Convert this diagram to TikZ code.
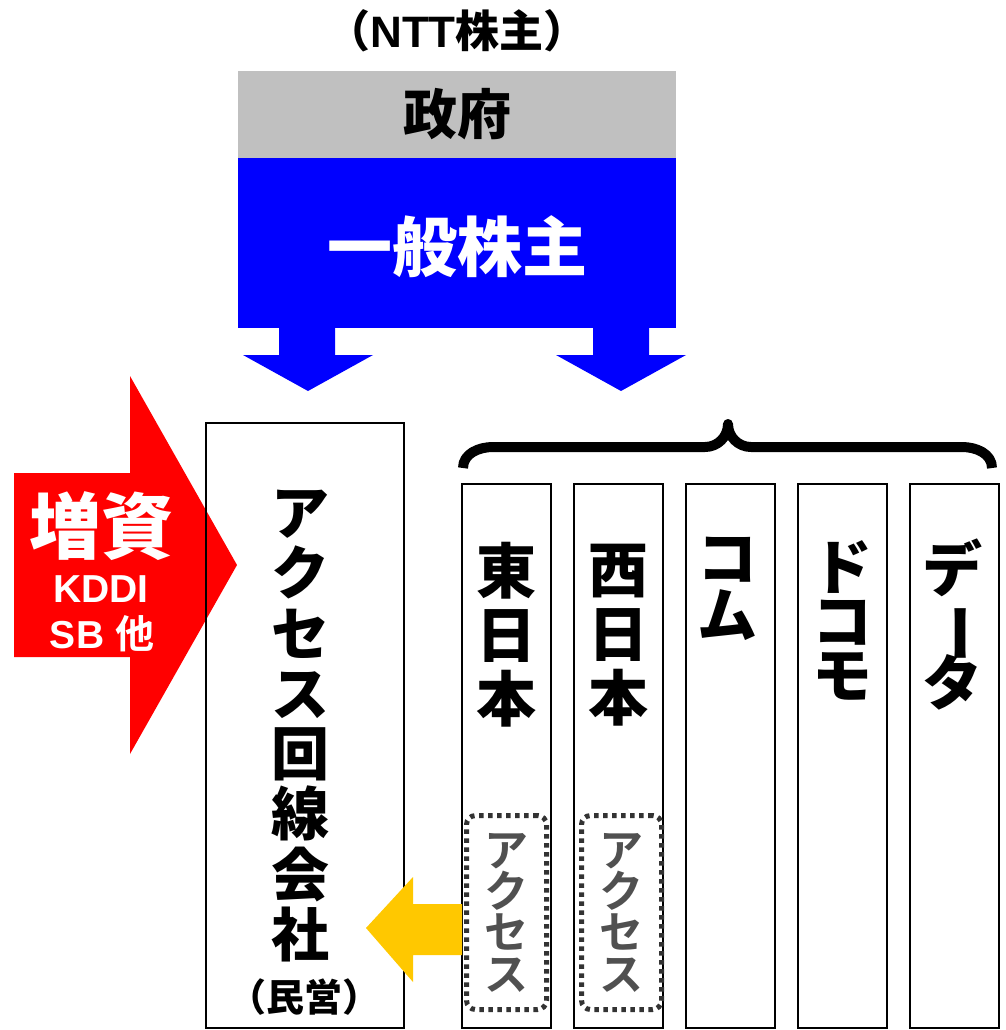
\documentclass[tikz,border=0pt]{standalone}
\usepackage{fontspec}
\IfFontExistsTF{Noto Sans CJK JP Black}{\newfontfamily\jpheavy{Noto Sans CJK JP Black}}{\newfontfamily\jpheavy{Noto Sans CJK JP}[FakeBold=3]}
\IfFontExistsTF{Noto Sans CJK JP Bold}{\newfontfamily\jpbold{Noto Sans CJK JP Bold}}{\newfontfamily\jpbold{Noto Sans CJK JP}[FakeBold=1.5]}
\newfontfamily\latfont{Liberation Sans}
\usetikzlibrary{positioning}
\definecolor{govgray}{RGB}{192,192,192}
\definecolor{shareblue}{RGB}{0,0,255}
\definecolor{capred}{RGB}{255,0,0}
\definecolor{accyellow}{RGB}{255,200,0}
\definecolor{dotgray}{RGB}{51,51,51}
\definecolor{textgray}{RGB}{80,80,80}
\newcommand\stackfont[2]{\fontsize{#1}{#2}\selectfont\lineskiplimit=-100pt}
\tikzset{
  colbox/.style={draw, line width=1.5pt, inner sep=0pt, minimum width=89pt, minimum height=544pt},
  vtext/.style={inner sep=0pt, align=center},
  accbox/.style={draw=dotgray, line width=5pt, dash pattern=on 4.5pt off 4.5pt, rounded corners=9pt,
    inner sep=0pt, minimum width=80pt, minimum height=194pt},
}

\begin{document}
\begin{tikzpicture}[x=1pt,y=-1pt]
    \useasboundingbox (0,0) rectangle (1005,1030);

    % Title
    \node[font=\jpheavy\fontsize{44}{44}\selectfont] (title) at (457,31) {（{\latfont\bfseries NTT}株主）};

    % Shareholders
    \node[fill=govgray, inner sep=0pt, minimum width=438pt, minimum height=87pt,
      font=\jpheavy\fontsize{54}{54}\selectfont] (gov) at (457,114.5) {政府};
    \node[fill=shareblue, inner sep=0pt, minimum width=438pt, minimum height=170.5pt] (share) at (457,242.75) {};
    \node[text=white, font=\jpheavy\fontsize{65}{65}\selectfont] (sharetext) at (457,247) {一般株主};

    % Down arrows
    \fill[shareblue] (279,327) -- (335,327) -- (335,355) -- (373,355) -- (308,391) -- (243,355) -- (279,355) -- cycle;
    \fill[shareblue] (593,327) -- (649,327) -- (649,355) -- (686,355) -- (621,391) -- (556,355) -- (593,355) -- cycle;

    % Capital increase
    \fill[capred] (14,473) -- (130,473) -- (130,376) -- (237,565) -- (130,754) -- (130,657) -- (14,657) -- cycle;
    \node[text=white, font=\jpheavy\fontsize{72}{72}\selectfont] (zoushi) at (101,526) {増資};
    \node[text=white, font=\latfont\bfseries\fontsize{39}{39}\selectfont] (kddi) at (101,589) {KDDI};
    \node[text=white, font=\latfont\bfseries\fontsize{39}{39}\selectfont] (sb) at (102,634) {SB {\jpheavy 他}};

    % Access line company
    \node[colbox, minimum width=198pt, minimum height=605pt] (acc) at (305,725.5) {};
    \node[vtext, font=\jpheavy\stackfont{58}{60.3}] (acctext) at (300,726) {ア\\ク\\セ\\ス\\回\\線\\会\\社};
    \node[font=\jpheavy\fontsize{38}{38}\selectfont] (minei) at (304,997) {（民営）};

    % Brace
    \draw[line width=10pt, line join=round] (463,468) to[out=90,in=180] (493,447) -- (705,447)
      to[out=0,in=-90] (728,424) to[out=-90,in=180] (751,447) -- (962,447) to[out=0,in=90] (992,468);

    % Group companies
    \node[colbox] (east) at (506.5,756) {};
    \node[colbox] (west) at (618.5,756) {};
    \node[colbox] (com) at (730.5,756) {};
    \node[colbox] (docomo) at (842.5,756) {};
    \node[colbox] (data) at (954.5,756) {};
    \node[vtext, font=\jpheavy\stackfont{60}{64}] (easttext) at (506.5,635) {東\\日\\本};
    \node[vtext, font=\jpheavy\stackfont{60}{64}] (westtext) at (618.5,635) {西\\日\\本};
    \node[vtext, font=\jpheavy\stackfont{60}{57}] (comtext) at (727,589) {コ\\ム};
    \node[vtext, font=\jpheavy\stackfont{60}{54}] (docomotext) at (842.5,620) {ド\\コ\\モ};
    \node[vtext, font=\jpheavy\stackfont{60}{57}] (datatext) at (952,624) {デ\\\rotatebox[origin=c]{-90}{ー}\\タ};

    % Access parts
    \node[accbox] (eastacc) at (506.5,912.5) {};
    \node[accbox] (westacc) at (621.5,912.5) {};
    \node[vtext, text=textgray, font=\jpbold\stackfont{44}{41.3}] at (eastacc) {ア\\ク\\セ\\ス};
    \node[vtext, text=textgray, font=\jpbold\stackfont{44}{41.3}] at (westacc) {ア\\ク\\セ\\ス};

    % Transfer arrow
    \fill[accyellow] (462,904) -- (413,904) -- (413,877) -- (366,928) -- (413,982) -- (413,955) -- (462,955) -- cycle;
\end{tikzpicture}
\end{document}
